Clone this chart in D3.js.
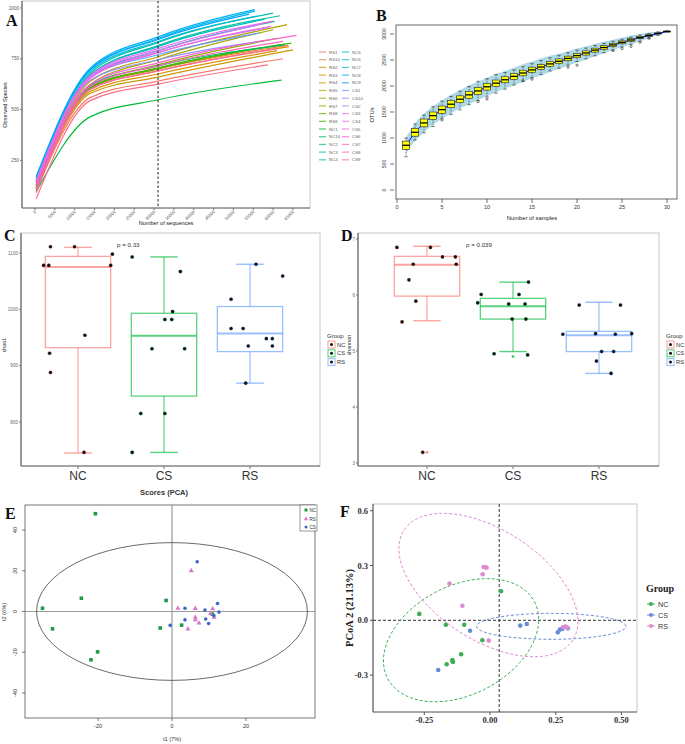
<!DOCTYPE html>
<html>
<head>
<meta charset="utf-8">
<script src="https://cdn.jsdelivr.net/npm/d3@7"></script>
<style>
  body { margin: 0; background: #fff; }
  svg { display: block; }
</style>
</head>
<body>
<script>
/* Six-panel diversity figure: rarefaction, OTU accumulation, alpha boxplots, PCA, PCoA */

// ---------- Panel A: rarefaction curves ----------
var aSamples = ['RS1','RS10','RS2','RS3','RS4','RS5','RS6','RS7','RS8','RS9',
                'NC1','NC10','NC2','NC3','NC4','NC5','NC6','NC7','NC8','NC9',
                'CS1','CS10','CS2','CS3','CS4','CS5','CS6','CS7','CS8','CS9'];
var aCheckDepths = [300, 14000, 31000];
var aStart = [100,120,110,115,100,130,125,120,110,115, 95,130,140,150,150,145,160,165,170,160, 150,140,140,145,150,140,130,110,90,60];
var aAt14k = [560,610,600,590,580,640,625,615,605,610, 465,620,660,670,680,672,690,700,705,698, 660,645,660,665,668,655,625,615,600,545];
var aAt31k = [640,700,690,675,660,760,745,720,700,705, 548,715,790,815,830,810,835,850,858,845, 770,745,780,790,800,780,730,715,690,625];
var aDepthEnd = [62500,63800,64000,61000,65000,63500,60000,61000,62000,64600, 62100,63000,60400,61700,60000,57900,56000,55400,55400,54000, 56600,58000,59000,57000,60000,59500,65900,62500,61000,58700];
var aEnd = [750,816,810,790,794,918,893,850,820,827, 645,818,934,962,975,945,960,985,992,970, 877,840,905,920,935,910,865,836,800,720];
var aXTicks = d3.range(0, 65001, 5000);
var aYTicks = [250, 500, 750, 1000];
var aRarefyDepth = 31000;

// ---------- Panel B: OTU accumulation ----------
var bSamples = d3.range(1, 31);
var bMed = [860,1110,1290,1430,1545,1650,1745,1830,1905,1985,2055,2120,2185,2250,2310,2365,2425,2475,2530,2585,2635,2690,2740,2790,2840,2885,2930,2970,3010,3050];
var bQ1  = [780,1035,1215,1360,1475,1582,1679,1765,1840,1922,1995,2062,2129,2196,2258,2315,2377,2429,2486,2543,2595,2652,2705,2758,2812,2860,2910,2954,3000,3045];
var bQ3  = [940,1185,1365,1500,1615,1718,1811,1895,1970,2048,2115,2178,2241,2304,2362,2415,2473,2521,2574,2627,2675,2728,2775,2822,2868,2910,2950,2986,3020,3055];
var bLo  = [640,960,1100,1220,1380,1450,1540,1640,1720,1790,1860,1940,2020,2090,2160,2220,2290,2340,2400,2470,2520,2580,2640,2690,2750,2800,2860,2910,2970,3040];
var bHi  = [1000,1270,1440,1600,1710,1800,1900,1990,2090,2140,2220,2260,2310,2370,2430,2490,2540,2590,2640,2690,2730,2780,2820,2860,2900,2940,2980,3010,3040,3060];
var bBandLo = [700,940,1110,1260,1370,1470,1570,1650,1730,1810,1880,1950,2010,2080,2150,2200,2270,2330,2390,2450,2510,2570,2630,2690,2750,2800,2860,2920,2980,3050];
var bBandHi = [1010,1280,1470,1610,1720,1830,1920,2010,2080,2160,2230,2290,2350,2420,2470,2530,2580,2620,2670,2720,2760,2810,2850,2890,2930,2970,3000,3030,3045,3055];
var bOutN = [5,9,10,14,15,19,20,24,25,26,27,28];
var bOutV = [1345,1700,1750,2100,2130,2360,2400,2680,2720,2760,2840,2920];
var bXTicks = [0,5,10,15,20,25,30];
var bYTicks = [0,500,1000,1500,2000,2500,3000];

// ---------- Panels C, D: alpha diversity ----------
var groups = ['NC','CS','RS'];
var chaoMin = [745, 746, 869];
var chaoQ1  = [932, 846, 925];
var chaoMed = [1075, 953, 957];
var chaoQ3  = [1094, 993, 1005];
var chaoMax = [1110, 1093, 1080];
var chaoNC = [1111,1111,1078,1078,1078,1098,954,922,888,746];
var chaoCS = [1093,1067,996,982,982,930,930,815,815,746];
var chaoRS = [1080,1059,1018,966,966,948,948,935,935,869];
var chaoJitNC = [-0.32,-0.04,-0.40,-0.34,0.38,0.40,0.08,-0.33,-0.32,0.07];
var chaoJitCS = [-0.37,0.19,0.10,0.01,0.09,-0.14,0.24,-0.27,0.01,-0.37];
var chaoJitRS = [0.07,0.38,-0.22,-0.22,-0.08,0.19,0.26,-0.02,0.26,-0.05];
var chaoTicks = [800, 900, 1000, 1100];

var shMin = [5.54, 4.99, 4.60];
var shQ1  = [5.98, 5.57, 4.99];
var shMed = [6.54, 5.80, 5.28];
var shQ3  = [6.69, 5.94, 5.35];
var shMax = [6.87, 6.23, 5.87];
var shOutGroup = ['NC','CS'];
var shOutVal = [3.19, 4.90];
var shNC = [6.85,6.85,6.68,6.68,6.55,6.55,6.27,5.89,5.52,3.19];
var shCS = [6.23,6.01,6.01,5.86,5.84,5.84,5.57,5.57,4.95,4.93];
var shRS = [5.82,5.82,5.30,5.31,5.30,5.31,4.99,4.99,4.82,4.60];
var shJitNC = [-0.35,0.04,0.18,0.33,0.34,-0.16,-0.21,-0.13,-0.29,-0.05];
var shJitCS = [0.18,-0.37,0.07,-0.41,-0.05,0.14,-0.01,0.15,-0.22,0.17];
var shJitRS = [-0.23,0.25,-0.42,-0.04,0.19,0.38,0.03,0.17,-0.03,0.14];
var shTicks = [3, 4, 5, 6, 7];

// ---------- Panel E: PCA scores ----------
var eNCx = [-20.7,-24.5,-35.0,-32.3,-21.9,-20.1,-1.6,-3.2,2.6,10.9];
var eNCy = [48.0,6.5,1.6,-8.5,-23.7,-19.8,5.4,-8.1,-6.7,-1.3];
var eRSx = [5.2,1.6,6.3,6.3,6.3,7.3,4.3,10.4,11.0,11.4];
var eRSy = [20.0,1.6,1.5,-2.9,-4.1,-5.7,-8.6,-1.0,1.3,-2.9];
var eCSx = [6.8,3.5,8.9,12.3,12.7,9.1,9.9,3.5,-0.5,11.3];
var eCSy = [24.4,1.6,0.7,3.9,-0.3,-3.7,-5.9,-4.1,-6.8,-2.0];
var eEllipseR = [36.6, 33.8];
var eXTicks = [-20, 0, 20];
var eYTicks = [-40, -20, 0, 20, 40];

// ---------- Panel F: PCoA ----------
var fNCx = [-0.269,-0.168,-0.098,0.042,-0.029,-0.165,-0.143,-0.143,-0.110,-0.141];
var fNCy = [0.035,-0.024,-0.024,0.159,-0.109,-0.241,-0.223,-0.217,-0.186,-0.228];
var fCSx = [-0.197,-0.076,0.115,0.140,0.258,0.266,0.275,0.296,0.279,0.286];
var fCSy = [-0.272,-0.057,-0.029,-0.020,-0.066,-0.051,-0.047,-0.044,-0.038,-0.035];
var fRSx = [-0.024,-0.016,-0.013,-0.028,-0.154,-0.105,-0.005,0.279,0.289,0.294];
var fRSy = [0.292,0.290,0.288,0.252,0.201,0.080,-0.111,-0.038,-0.035,-0.040];
var fEllCx = [-0.110, 0.233, -0.006];
var fEllCy = [-0.109, -0.033, 0.193];
var fEllAxis1 = [[0.279, 0.211], [0.284, 0], [0.321, -0.301]];
var fEllAxis2 = [[0.097, -0.263], [0, 0.071], [-0.114, -0.252]];
var fRefX = 0.035;
var fXTicks = [-0.25, 0, 0.25, 0.5];
var fYTicks = [-0.3, 0, 0.3, 0.6];

var SANS = '"Liberation Sans", Arial, sans-serif';
var SERIF = '"Liberation Serif", "Times New Roman", serif';
var grpColor = { NC: '#F8766D', CS: '#00BA38', RS: '#619CFF' };

var svg = d3.select('body').append('svg').attr('width', 685).attr('height', 744);
svg.append('rect').attr('width', 685).attr('height', 744).attr('fill', '#fff');

// ggplot-like hue palette (polar Luv -> sRGB)
function hueColor(h) {
  var L = 65, C = 100, hr = h * Math.PI / 180;
  var u = C * Math.cos(hr), v = C * Math.sin(hr);
  var Y = Math.pow((L + 16) / 116, 3);
  var up = u / (13 * L) + 0.19784, vp = v / (13 * L) + 0.46834;
  var X = Y * 9 * up / (4 * vp);
  var Z = Y * (12 - 3 * up - 20 * vp) / (4 * vp);
  var lin = [3.240479 * X - 1.537150 * Y - 0.498535 * Z,
             -0.969256 * X + 1.875992 * Y + 0.041556 * Z,
             0.055648 * X - 0.204043 * Y + 1.057311 * Z];
  var c = lin.map(function(t) {
    t = t <= 0.0031308 ? 12.92 * t : 1.055 * Math.pow(t, 1 / 2.4) - 0.055;
    return Math.round(255 * Math.max(0, Math.min(1, t)));
  });
  return d3.rgb(c[0], c[1], c[2]).formatHex();
}

function letter(x, y, t) {
  svg.append('text').attr('x', x).attr('y', y).text(t)
    .attr('font-family', SERIF).attr('font-weight', 'bold').attr('font-size', 16).attr('fill', '#111');
}

function ggFrame(g, x0, y0, x1, y1) {
  g.append('rect').attr('x', x0).attr('y', y0).attr('width', x1 - x0).attr('height', y1 - y0)
    .attr('fill', '#fff').attr('stroke', '#c8c8c8').attr('stroke-width', 1);
  g.append('line').attr('x1', x0).attr('x2', x0).attr('y1', y0).attr('y2', y1).attr('stroke', '#666').attr('stroke-width', 1.2);
  g.append('line').attr('x1', x0).attr('x2', x1).attr('y1', y1).attr('y2', y1).attr('stroke', '#666').attr('stroke-width', 1.2);
}

/* ---------------- A ---------------- */
function drawA() {
  var g = svg.append('g');
  var x = d3.scaleLinear().domain([0, 65000]).range([35, 293]);
  var y = d3.scaleLinear().domain([250, 1000]).range([160.3, 8]);
  ggFrame(g, 22, 1, 310, 208);

  aYTicks.forEach(function(t) {
    g.append('line').attr('x1', 20).attr('x2', 22).attr('y1', y(t)).attr('y2', y(t)).attr('stroke', '#777');
    g.append('text').attr('x', 19).attr('y', y(t) + 1.6).attr('text-anchor', 'end').text(t)
      .attr('font-family', SANS).attr('font-size', 4.6).attr('fill', '#555');
  });
  aXTicks.forEach(function(t) {
    g.append('line').attr('x1', x(t)).attr('x2', x(t)).attr('y1', 208).attr('y2', 210).attr('stroke', '#777');
    g.append('text').attr('transform', 'translate(' + (x(t) + 1.5) + ',212) rotate(-45)')
      .attr('text-anchor', 'end').text(t)
      .attr('font-family', SANS).attr('font-size', 4.3).attr('fill', '#555');
  });
  g.append('text').attr('x', 166).attr('y', 225).attr('text-anchor', 'middle').text('Number of sequences')
    .attr('font-family', SANS).attr('font-size', 5.6).attr('fill', '#222');
  g.append('text').attr('transform', 'translate(7,105) rotate(-90)').attr('text-anchor', 'middle').text('Observed Species')
    .attr('font-family', SANS).attr('font-size', 5.6).attr('fill', '#222');

  var line = d3.line().curve(d3.curveMonotoneX)
    .x(function(d) { return x(d[0]); }).y(function(d) { return y(d[1]); });
  aSamples.forEach(function(s, i) {
    var pts = [[aCheckDepths[0], aStart[i]], [aCheckDepths[1], aAt14k[i]],
               [aCheckDepths[2], aAt31k[i]], [aDepthEnd[i], aEnd[i]]];
    g.append('path').attr('d', line(pts)).attr('fill', 'none')
      .attr('stroke', hueColor(15 + i * 12)).attr('stroke-width', 1.2);
  });

  g.append('line').attr('x1', x(aRarefyDepth)).attr('x2', x(aRarefyDepth)).attr('y1', 1).attr('y2', 208)
    .attr('stroke', '#222').attr('stroke-width', 1).attr('stroke-dasharray', '2.5,2');

  // legend, two columns of 15
  aSamples.forEach(function(s, i) {
    var col = i < 15 ? 0 : 1, row = i % 15;
    var lx = col === 0 ? 319 : 342, ly = 52 + row * 7.7;
    g.append('line').attr('x1', lx).attr('x2', lx + 7).attr('y1', ly).attr('y2', ly)
      .attr('stroke', hueColor(15 + i * 12)).attr('stroke-width', 1.2).attr('stroke-opacity', 0.75);
    g.append('text').attr('x', lx + 10).attr('y', ly + 1.6).text(s)
      .attr('font-family', SANS).attr('font-size', 4.4).attr('fill', '#666');
  });
  letter(6, 26, 'A');
}

/* ---------------- B ---------------- */
function drawB() {
  var g = svg.append('g');
  var x = d3.scaleLinear().domain([0, 30]).range([397, 667]);
  var y = d3.scaleLinear().domain([0, 3000]).range([190, 34]);

  g.append('rect').attr('x', 396).attr('y', 25).attr('width', 281).attr('height', 174)
    .attr('fill', '#fff').attr('stroke', '#444').attr('stroke-width', 0.8);

  bYTicks.forEach(function(t) {
    g.append('line').attr('x1', 390).attr('x2', 394).attr('y1', y(t)).attr('y2', y(t)).attr('stroke', '#333').attr('stroke-width', 0.7);
    g.append('text').attr('transform', 'translate(386,' + y(t) + ') rotate(-90)').attr('text-anchor', 'middle').text(t)
      .attr('font-family', SANS).attr('font-size', 5.2).attr('fill', '#333');
  });
  bXTicks.forEach(function(t) {
    g.append('line').attr('x1', x(t)).attr('x2', x(t)).attr('y1', 199).attr('y2', 203).attr('stroke', '#333').attr('stroke-width', 0.7);
    g.append('text').attr('x', x(t)).attr('y', 209).attr('text-anchor', 'middle').text(t)
      .attr('font-family', SANS).attr('font-size', 5.4).attr('fill', '#333');
  });
  g.append('text').attr('x', 532).attr('y', 220).attr('text-anchor', 'middle').text('Number of samples')
    .attr('font-family', SANS).attr('font-size', 5.8).attr('fill', '#222');
  g.append('text').attr('transform', 'translate(374,115) rotate(-90)').attr('text-anchor', 'middle').text('OTUs')
    .attr('font-family', SANS).attr('font-size', 5.8).attr('fill', '#222');

  var area = d3.area().curve(d3.curveMonotoneX)
    .x(function(d, i) { return x(bSamples[i]); })
    .y0(function(d, i) { return y(bBandLo[i]); })
    .y1(function(d, i) { return y(bBandHi[i]); });
  g.append('path').attr('d', area(bSamples)).attr('fill', '#ADD8E6');

  var line = d3.line().x(function(d, i) { return x(bSamples[i]); }).y(function(d, i) { return y(bMed[i]); });
  g.append('path').attr('d', line(bSamples)).attr('fill', 'none').attr('stroke', '#0000FF').attr('stroke-width', 1);

  var hw = 3.6;
  bSamples.forEach(function(n, i) {
    var cx = x(n);
    g.append('line').attr('x1', cx).attr('x2', cx).attr('y1', y(bHi[i])).attr('y2', y(bQ3[i]))
      .attr('stroke', '#333').attr('stroke-width', 0.6).attr('stroke-dasharray', '1.5,1');
    g.append('line').attr('x1', cx).attr('x2', cx).attr('y1', y(bQ1[i])).attr('y2', y(bLo[i]))
      .attr('stroke', '#333').attr('stroke-width', 0.6).attr('stroke-dasharray', '1.5,1');
    [bHi[i], bLo[i]].forEach(function(v) {
      g.append('line').attr('x1', cx - 1.8).attr('x2', cx + 1.8).attr('y1', y(v)).attr('y2', y(v))
        .attr('stroke', '#333').attr('stroke-width', 0.6);
    });
    g.append('rect').attr('x', cx - hw).attr('y', y(bQ3[i])).attr('width', hw * 2)
      .attr('height', Math.max(1, y(bQ1[i]) - y(bQ3[i])))
      .attr('fill', '#FFFF00').attr('stroke', '#222').attr('stroke-width', 0.6);
    g.append('line').attr('x1', cx - hw).attr('x2', cx + hw).attr('y1', y(bMed[i])).attr('y2', y(bMed[i]))
      .attr('stroke', '#000').attr('stroke-width', 1.3);
  });
  bOutN.forEach(function(n, i) {
    g.append('circle').attr('cx', x(n)).attr('cy', y(bOutV[i])).attr('r', 1.1)
      .attr('fill', 'none').attr('stroke', '#222').attr('stroke-width', 0.6);
  });
  letter(376, 21, 'B');
}

/* ---------------- C / D boxplots ---------------- */
function drawBoxPanel(opts) {
  var g = svg.append('g');
  var x = d3.scalePoint().domain(groups).range(opts.xRange);
  var step = x.step();
  var y = d3.scaleLinear().domain(opts.yDomain).range(opts.yRange);
  ggFrame(g, opts.frame[0], opts.frame[1], opts.frame[2], opts.frame[3]);

  opts.ticks.forEach(function(t) {
    g.append('line').attr('x1', opts.frame[0] - 2).attr('x2', opts.frame[0]).attr('y1', y(t)).attr('y2', y(t)).attr('stroke', '#777');
    g.append('text').attr('x', opts.frame[0] - 3).attr('y', y(t) + 1.6).attr('text-anchor', 'end').text(t)
      .attr('font-family', SANS).attr('font-size', 4.6).attr('fill', '#666');
  });
  groups.forEach(function(gr) {
    g.append('line').attr('x1', x(gr)).attr('x2', x(gr)).attr('y1', opts.frame[3]).attr('y2', opts.frame[3] + 3).attr('stroke', '#777');
    g.append('text').attr('x', x(gr)).attr('y', opts.frame[3] + 14).attr('text-anchor', 'middle').text(gr)
      .attr('font-family', SANS).attr('font-size', 12).attr('fill', '#333');
  });
  g.append('text').attr('transform', 'translate(' + opts.yLabelX + ',345) rotate(-90)').attr('text-anchor', 'middle')
    .text(opts.yLabel).attr('font-family', SANS).attr('font-size', 5.4).attr('fill', '#333');
  g.append('text').attr('x', opts.pX).attr('y', 247).text(opts.pText)
    .attr('font-family', SANS).attr('font-size', 6.2).attr('fill', '#333');

  var bw = step * 0.76, cw = step * 0.32;
  groups.forEach(function(gr, i) {
    var cx = x(gr), col = grpColor[gr];
    var st = function(sel, w) { return sel.attr('stroke', col).attr('stroke-opacity', 0.65).attr('stroke-width', w); };
    st(g.append('line').attr('x1', cx).attr('x2', cx).attr('y1', y(opts.max[i])).attr('y2', y(opts.min[i])), 1.2);
    st(g.append('line').attr('x1', cx - cw / 2).attr('x2', cx + cw / 2).attr('y1', y(opts.max[i])).attr('y2', y(opts.max[i])), 1.4);
    st(g.append('line').attr('x1', cx - cw / 2).attr('x2', cx + cw / 2).attr('y1', y(opts.min[i])).attr('y2', y(opts.min[i])), 1.4);
    st(g.append('rect').attr('x', cx - bw / 2).attr('y', y(opts.q3[i])).attr('width', bw)
      .attr('height', y(opts.q1[i]) - y(opts.q3[i])).attr('fill', '#fff'), 1.3);
    st(g.append('line').attr('x1', cx - bw / 2).attr('x2', cx + bw / 2).attr('y1', y(opts.med[i])).attr('y2', y(opts.med[i])), 2);
  });
  (opts.outGroup || []).forEach(function(gr, i) {
    g.append('circle').attr('cx', x(gr)).attr('cy', y(opts.outVal[i])).attr('r', 1.4)
      .attr('fill', grpColor[gr]).attr('fill-opacity', 0.8);
  });
  groups.forEach(function(gr, i) {
    opts.pts[i].forEach(function(v, j) {
      g.append('circle').attr('cx', x(gr) + opts.jit[i][j] * step).attr('cy', y(v)).attr('r', 1.8)
        .attr('fill', '#111').attr('stroke', grpColor[gr]).attr('stroke-opacity', 0.4).attr('stroke-width', 0.6);
    });
  });
  if (opts.xTitle) {
    g.append('text').attr('x', x('CS')).attr('y', 495).attr('text-anchor', 'middle').text(opts.xTitle)
      .attr('font-family', SANS).attr('font-weight', 'bold').attr('font-size', 7.5).attr('fill', '#333');
  }
  // legend
  var lx = opts.legendX;
  g.append('text').attr('x', lx).attr('y', 338).text('Group').attr('font-family', SANS).attr('font-size', 6).attr('fill', '#333');
  groups.forEach(function(gr, i) {
    var ly = 341 + i * 8.8;
    g.append('rect').attr('x', lx + 1).attr('y', ly).attr('width', 7).attr('height', 7)
      .attr('fill', '#fff').attr('stroke', grpColor[gr]).attr('stroke-opacity', 0.7);
    g.append('circle').attr('cx', lx + 4.5).attr('cy', ly + 3.5).attr('r', 1.5).attr('fill', '#111');
    g.append('text').attr('x', lx + 10).attr('y', ly + 5.6).text(gr).attr('font-family', SANS).attr('font-size', 5.8).attr('fill', '#333');
  });
}

function drawC() {
  drawBoxPanel({
    xRange: [78, 250], yDomain: [800, 1100], yRange: [422, 253], frame: [21, 233, 320, 466],
    ticks: chaoTicks, yLabel: 'chao1', yLabelX: 6, pText: 'p = 0.33', pX: 117,
    min: chaoMin, q1: chaoQ1, med: chaoMed, q3: chaoQ3, max: chaoMax,
    pts: [chaoNC, chaoCS, chaoRS], jit: [chaoJitNC, chaoJitCS, chaoJitRS],
    xTitle: 'Scores (PCA)', legendX: 327
  });
  letter(4, 241, 'C');
}

function drawD() {
  svg.append('rect').attr('x', 346).attr('y', 228).attr('width', 339).attr('height', 272).attr('fill', '#fff');
  drawBoxPanel({
    xRange: [427, 599], yDomain: [3, 7], yRange: [463, 239], frame: [358, 233, 659, 466],
    ticks: shTicks, yLabel: 'shannon', yLabelX: 351, pText: 'p = 0.039', pX: 466,
    min: shMin, q1: shQ1, med: shMed, q3: shQ3, max: shMax,
    outGroup: shOutGroup, outVal: shOutVal,
    pts: [shNC, shCS, shRS], jit: [shJitNC, shJitCS, shJitRS],
    legendX: 666
  });
  letter(341, 241, 'D');
}

/* ---------------- E ---------------- */
function drawE() {
  var g = svg.append('g');
  var x = d3.scaleLinear().domain([-20, 20]).range([98, 246]);
  var y = d3.scaleLinear().domain([-40, 40]).range([693, 530]);
  g.append('rect').attr('x', 25).attr('y', 505).attr('width', 290).attr('height', 213)
    .attr('fill', '#fff').attr('stroke', '#555').attr('stroke-width', 0.8);
  g.append('line').attr('x1', x(0)).attr('x2', x(0)).attr('y1', 505).attr('y2', 718).attr('stroke', '#999').attr('stroke-width', 1.2);
  g.append('line').attr('x1', 25).attr('x2', 315).attr('y1', y(0)).attr('y2', y(0)).attr('stroke', '#999').attr('stroke-width', 1.2);
  g.append('ellipse').attr('cx', x(0)).attr('cy', y(0))
    .attr('rx', x(eEllipseR[0]) - x(0)).attr('ry', y(0) - y(eEllipseR[1]))
    .attr('fill', 'none').attr('stroke', '#444').attr('stroke-width', 0.8);

  eXTicks.forEach(function(t) {
    g.append('line').attr('x1', x(t)).attr('x2', x(t)).attr('y1', 718).attr('y2', 721).attr('stroke', '#444').attr('stroke-width', 0.7);
    g.append('text').attr('x', x(t)).attr('y', 728).attr('text-anchor', 'middle').text(t)
      .attr('font-family', SANS).attr('font-size', 5.4).attr('fill', '#333');
  });
  eYTicks.forEach(function(t) {
    g.append('line').attr('x1', 22).attr('x2', 25).attr('y1', y(t)).attr('y2', y(t)).attr('stroke', '#444').attr('stroke-width', 0.7);
    g.append('text').attr('transform', 'translate(17,' + y(t) + ') rotate(-90)').attr('text-anchor', 'middle').text(t)
      .attr('font-family', SANS).attr('font-size', 5.4).attr('fill', '#333');
  });
  g.append('text').attr('x', 172).attr('y', 741).attr('text-anchor', 'middle').text('t1 (7%)')
    .attr('font-family', SANS).attr('font-size', 5.6).attr('fill', '#333');
  g.append('text').attr('transform', 'translate(6,612) rotate(-90)').attr('text-anchor', 'middle').text('t2 (6%)')
    .attr('font-family', SANS).attr('font-size', 5.6).attr('fill', '#333');

  var tri = d3.symbol().type(d3.symbolTriangle).size(11);
  eNCx.forEach(function(v, i) {
    g.append('rect').attr('x', x(v) - 1.8).attr('y', y(eNCy[i]) - 1.8).attr('width', 3.6).attr('height', 3.6).attr('fill', '#1E9A48');
  });
  eRSx.forEach(function(v, i) {
    g.append('path').attr('d', tri()).attr('transform', 'translate(' + x(v) + ',' + y(eRSy[i]) + ')').attr('fill', '#D876CF');
  });
  eCSx.forEach(function(v, i) {
    g.append('circle').attr('cx', x(v)).attr('cy', y(eCSy[i])).attr('r', 1.8).attr('fill', '#3C63C6');
  });

  // legend box
  g.append('rect').attr('x', 300).attr('y', 505).attr('width', 17).attr('height', 26)
    .attr('fill', '#fff').attr('stroke', '#555').attr('stroke-width', 0.6);
  var legY = [510, 519, 527];
  g.append('rect').attr('x', 304.5).attr('y', legY[0] - 1.5).attr('width', 3).attr('height', 3).attr('fill', '#1E9A48');
  g.append('path').attr('d', d3.symbol().type(d3.symbolTriangle).size(8)()).attr('transform', 'translate(306,' + legY[1] + ')').attr('fill', '#D876CF');
  g.append('circle').attr('cx', 306).attr('cy', legY[2]).attr('r', 1.5).attr('fill', '#3C63C6');
  ['NC', 'RS', 'CS'].forEach(function(t, i) {
    g.append('text').attr('x', 309.5).attr('y', legY[i] + 1.7).text(t)
      .attr('font-family', SANS).attr('font-size', 4.6).attr('fill', '#333');
  });
  letter(5, 519, 'E');
}

/* ---------------- F ---------------- */
function drawF() {
  var g = svg.append('g');
  var x = d3.scaleLinear().domain([0, 0.25]).range([490, 555.7]);
  var y = d3.scaleLinear().domain([0, 0.3]).range([620.3, 565.5]);
  var fCol = { NC: '#3DAE53', CS: '#6B8BD6', RS: '#DE8BD3' };
  ggFrame(g, 373, 504, 637, 712);

  fYTicks.forEach(function(t) {
    g.append('line').attr('x1', 370).attr('x2', 373).attr('y1', y(t)).attr('y2', y(t)).attr('stroke', '#555');
    g.append('text').attr('x', 368).attr('y', y(t) + 3).attr('text-anchor', 'end').text(d3.format('.1f')(t).replace('−', '-'))
      .attr('font-family', SERIF).attr('font-weight', 'bold').attr('font-size', 8.5).attr('fill', '#333');
  });
  fXTicks.forEach(function(t) {
    g.append('line').attr('x1', x(t)).attr('x2', x(t)).attr('y1', 712).attr('y2', 715).attr('stroke', '#555');
    g.append('text').attr('x', x(t)).attr('y', 723).attr('text-anchor', 'middle').text(d3.format('.2f')(t).replace('−', '-'))
      .attr('font-family', SERIF).attr('font-weight', 'bold').attr('font-size', 8.5).attr('fill', '#333');
  });
  g.append('text').attr('transform', 'translate(353,608) rotate(-90)').attr('text-anchor', 'middle').text('PCoA 2 (21.13%)')
    .attr('font-family', SERIF).attr('font-weight', 'bold').attr('font-size', 10.5).attr('fill', '#222');

  g.append('line').attr('x1', x(fRefX)).attr('x2', x(fRefX)).attr('y1', 504).attr('y2', 712)
    .attr('stroke', '#333').attr('stroke-width', 1).attr('stroke-dasharray', '3,2');
  g.append('line').attr('x1', 373).attr('x2', 637).attr('y1', y(0)).attr('y2', y(0))
    .attr('stroke', '#333').attr('stroke-width', 1).attr('stroke-dasharray', '3,2');

  var ell = d3.line().x(function(d) { return x(d[0]); }).y(function(d) { return y(d[1]); });
  ['NC', 'CS', 'RS'].forEach(function(gr, k) {
    var pts = d3.range(0, 361, 3).map(function(a) {
      var t = a * Math.PI / 180;
      return [fEllCx[k] + fEllAxis1[k][0] * Math.cos(t) + fEllAxis2[k][0] * Math.sin(t),
              fEllCy[k] + fEllAxis1[k][1] * Math.cos(t) + fEllAxis2[k][1] * Math.sin(t)];
    });
    g.append('path').attr('d', ell(pts)).attr('fill', 'none').attr('stroke', fCol[gr])
      .attr('stroke-width', 1).attr('stroke-dasharray', '3,2');
  });

  [['NC', fNCx, fNCy], ['CS', fCSx, fCSy], ['RS', fRSx, fRSy]].forEach(function(s) {
    s[1].forEach(function(v, i) {
      g.append('circle').attr('cx', x(v)).attr('cy', y(s[2][i])).attr('r', 2.3).attr('fill', fCol[s[0]]);
    });
  });

  g.append('text').attr('x', 646).attr('y', 592).text('Group')
    .attr('font-family', SERIF).attr('font-weight', 'bold').attr('font-size', 10).attr('fill', '#222');
  ['NC', 'CS', 'RS'].forEach(function(gr, i) {
    var ly = 604 + i * 11;
    g.append('line').attr('x1', 647).attr('x2', 655).attr('y1', ly).attr('y2', ly).attr('stroke', fCol[gr]).attr('stroke-width', 1);
    g.append('circle').attr('cx', 651).attr('cy', ly).attr('r', 2).attr('fill', fCol[gr]);
    g.append('text').attr('x', 658).attr('y', ly + 2.6).text(gr)
      .attr('font-family', SANS).attr('font-size', 7.2).attr('fill', '#333');
  });
  letter(340, 517, 'F');
}

drawA();
drawB();
drawC();
drawD();
drawE();
drawF();
</script>
</body>
</html>
